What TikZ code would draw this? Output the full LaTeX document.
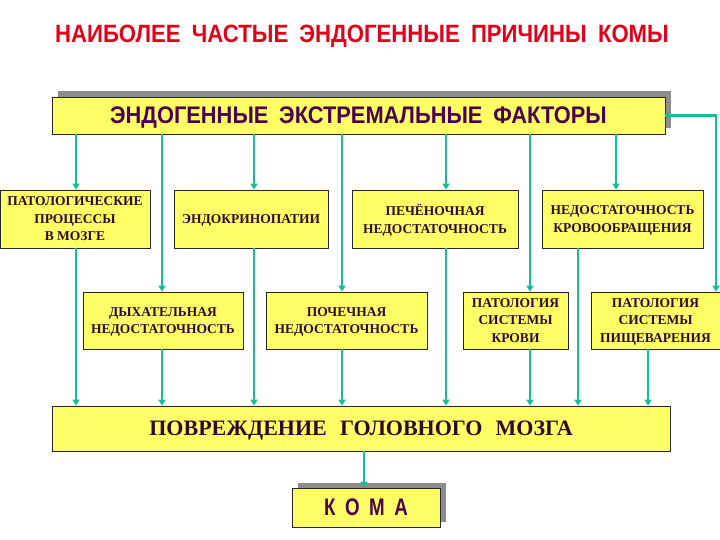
\documentclass[tikz,border=0pt]{standalone}
\usepackage{fontspec}
\setmainfont{Liberation Serif}
\newfontfamily\titlesans[FakeStretch=0.885]{Liberation Sans}
\newfontfamily\headsans[FakeStretch=0.91]{Liberation Sans}
\newfontfamily\narrowsans[FakeStretch=0.78]{Liberation Sans}
\usetikzlibrary{arrows.meta,shadows}
\definecolor{boxy}{RGB}{255,255,102}
\definecolor{txtp}{RGB}{75,0,80}
\definecolor{txtd}{RGB}{50,8,40}
\definecolor{conncol}{RGB}{22,190,152}
\definecolor{titlered}{RGB}{225,0,24}
\begin{document}
\begin{tikzpicture}[x=1pt,y=-1pt,
  conn/.style={draw=conncol, line width=2.4pt, -{Triangle[length=6pt,width=7pt]}},
  box/.style={draw=black!85, line width=0.7pt, fill=boxy, text=txtd, align=center,
    inner sep=0pt, text depth=0pt, font=\bfseries\fontsize{13.5}{17.5}\selectfont},
  shad/.style={drop shadow={shadow xshift=5.5pt, shadow yshift=5.5pt, fill=black!45, opacity=1}}
]
\useasboundingbox (0,0) rectangle (720,540);

\node[font=\titlesans\bfseries\fontsize{25}{25}\selectfont, text=titlered] (title) at (362,36)
  {НАИБОЛЕЕ\hspace{0.45em}ЧАСТЫЕ\hspace{0.45em}ЭНДОГЕННЫЕ\hspace{0.45em}ПРИЧИНЫ\hspace{0.45em}КОМЫ};

\node[box, shad, minimum width=613pt, minimum height=37pt, text=txtp,
  font=\headsans\bfseries\fontsize{24}{24}\selectfont] (top) at (358.5,115.5)
  {ЭНДОГЕННЫЕ\hspace{0.45em}ЭКСТРЕМАЛЬНЫЕ\hspace{0.45em}ФАКТОРЫ};

% row 1
\node[box, minimum width=150pt, minimum height=58pt] (b1) at (75,219)
  {ПАТОЛОГИЧЕСКИЕ\\ПРОЦЕССЫ\\В МОЗГЕ};
\node[box, minimum width=154pt, minimum height=58pt] (b2) at (251,219)
  {ЭНДОКРИНОПАТИИ};
\node[box, minimum width=166pt, minimum height=58pt] (b3) at (435,219)
  {ПЕЧЁНОЧНАЯ\\НЕДОСТАТОЧНОСТЬ};
\node[box, minimum width=161pt, minimum height=58pt] (b4) at (622.5,219)
  {НЕДОСТАТОЧНОСТЬ\\КРОВООБРАЩЕНИЯ};

% row 2
\node[box, minimum width=160pt, minimum height=57pt] (c1) at (163,320.5)
  {ДЫХАТЕЛЬНАЯ\\НЕДОСТАТОЧНОСТЬ};
\node[box, minimum width=161pt, minimum height=57pt] (c2) at (346.5,320.5)
  {ПОЧЕЧНАЯ\\НЕДОСТАТОЧНОСТЬ};
\node[box, minimum width=105pt, minimum height=57pt] (c3) at (515.5,320.5)
  {ПАТОЛОГИЯ\\СИСТЕМЫ\\КРОВИ};
\node[box, minimum width=129pt, minimum height=57pt] (c4) at (655.5,320.5)
  {ПАТОЛОГИЯ\\СИСТЕМЫ\\ПИЩЕВАРЕНИЯ};

% bottom
\node[box, minimum width=618pt, minimum height=45pt, text=txtd,
  font=\bfseries\fontsize{22}{22}\selectfont] (bot) at (361,428.5)
  {ПОВРЕЖДЕНИЕ\hspace{0.6em}ГОЛОВНОГО\hspace{0.6em}МОЗГА};
\node[box, shad, minimum width=148pt, minimum height=39pt, text=txtp,
  font=\narrowsans\bfseries\fontsize{24}{24}\selectfont] (koma) at (366,507.5)
  {К\hspace{0.4em}О\hspace{0.4em}М\hspace{0.4em}А};

% connectors top -> row boxes
\draw[conn] ([xshift=1pt]b1.north |- top.south) -- ([xshift=1pt]b1.north);
\draw[conn] ([xshift=-1pt]c1.north |- top.south) -- ([xshift=-1pt]c1.north);
\draw[conn] ([xshift=3pt]b2.north |- top.south) -- ([xshift=3pt]b2.north);
\draw[conn] ([xshift=-4.5pt]c2.north |- top.south) -- ([xshift=-4.5pt]c2.north);
\draw[conn] ([xshift=11pt]b3.north |- top.south) -- ([xshift=11pt]b3.north);
\draw[conn] ([xshift=14.5pt]c3.north |- top.south) -- ([xshift=14.5pt]c3.north);
\draw[conn] ([xshift=-6.5pt]b4.north |- top.south) -- ([xshift=-6.5pt]b4.north);
\draw[conn] (top.east) -| ([xshift=60.5pt]c4.north);

% row boxes -> bottom
\draw[conn] ([xshift=1pt]b1.south) -- ([xshift=1pt]b1.south |- bot.north);
\draw[conn] ([xshift=-1pt]c1.south) -- ([xshift=-1pt]c1.south |- bot.north);
\draw[conn] ([xshift=3pt]b2.south) -- ([xshift=3pt]b2.south |- bot.north);
\draw[conn] ([xshift=-4.5pt]c2.south) -- ([xshift=-4.5pt]c2.south |- bot.north);
\draw[conn] ([xshift=11pt]b3.south) -- ([xshift=11pt]b3.south |- bot.north);
\draw[conn] ([xshift=14.5pt]c3.south) -- ([xshift=14.5pt]c3.south |- bot.north);
\draw[conn] ([xshift=-44.5pt]b4.south) -- ([xshift=-44.5pt]b4.south |- bot.north);
\draw[conn] ([xshift=-7.5pt]c4.south) -- ([xshift=-7.5pt]c4.south |- bot.north);

% bottom -> koma
\draw[conn] ([xshift=-2pt]koma.north |- bot.south) -- ([xshift=-2pt]koma.north);
\end{tikzpicture}
\end{document}
